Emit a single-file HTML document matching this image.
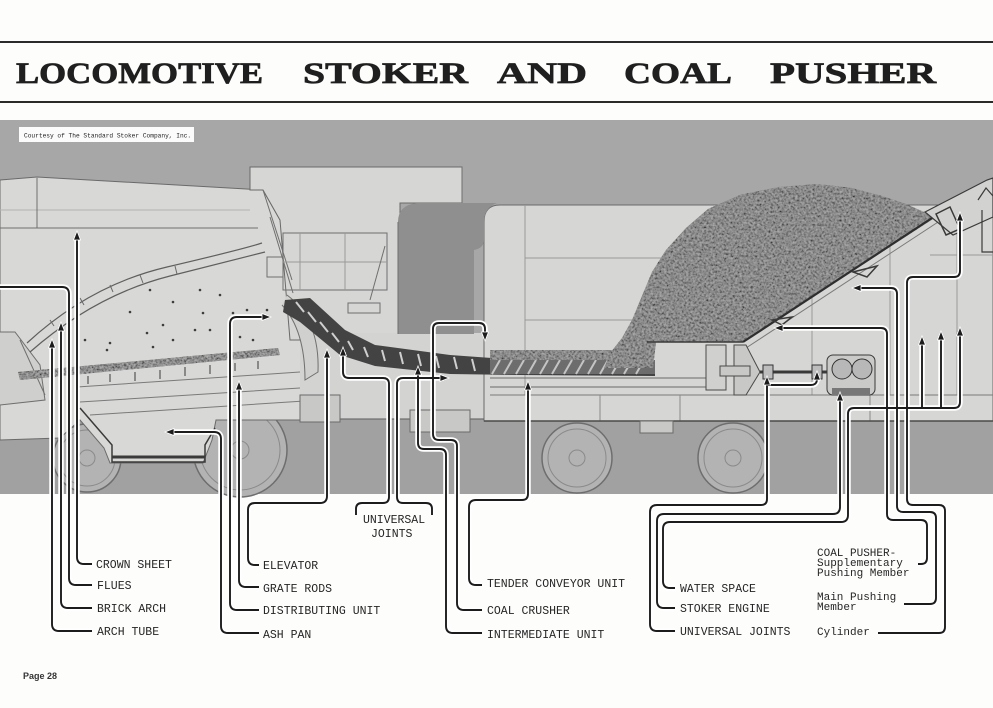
<!DOCTYPE html>
<html><head><meta charset="utf-8"><style>
html,body{margin:0;padding:0;background:#fdfdfc;}
body{width:993px;height:708px;overflow:hidden;}
svg{display:block;}
.lb{font-family:"Liberation Mono","DejaVu Sans Mono",monospace;font-size:11.5px;fill:#262626;}
.sm{font-family:"Liberation Mono","DejaVu Sans Mono",monospace;font-size:11px;fill:#262626;}
.tt{font-family:"Liberation Serif","DejaVu Serif",serif;font-weight:bold;font-size:30px;fill:#1f1f1f;stroke:#1f1f1f;stroke-width:0.7;}
</style></head><body>
<svg width="993" height="708" viewBox="0 0 993 708" xmlns="http://www.w3.org/2000/svg">
<defs>
<filter id="nz" filterUnits="userSpaceOnUse" x="0" y="0" width="993" height="708">
<feTurbulence type="fractalNoise" baseFrequency="0.45" numOctaves="2" seed="7"/>
<feColorMatrix type="matrix" values="1.3 0 0 0 -0.26  1.3 0 0 0 -0.26  1.3 0 0 0 -0.26  0 0 0 0 1"/>
</filter>
<clipPath id="coalClip">
<path d="M604,368 L611,352 L622,338 L632,320 L642,296 L652,272 L666,250 L686,228 L708,209 L740,195 L778,187 L818,184 L852,188 L882,196 L906,204 L924,212 L933,219 L743,342 L656,342 L653,368 Z"/>
<rect x="490" y="350" width="130" height="10"/>
</clipPath>
<clipPath id="fireClip">
<path d="M18,372 L278,348 L280,355 L20,380 Z"/>
</clipPath>
</defs>

<!-- title -->
<rect x="0" y="41" width="993" height="2" fill="#2a2a2a"/>
<rect x="0" y="101" width="993" height="2" fill="#2a2a2a"/>
<text class="tt" x="16" y="83" textLength="247" lengthAdjust="spacingAndGlyphs">LOCOMOTIVE</text>
<text class="tt" x="303" y="83" textLength="165" lengthAdjust="spacingAndGlyphs">STOKER</text>
<text class="tt" x="497" y="83" textLength="90" lengthAdjust="spacingAndGlyphs">AND</text>
<text class="tt" x="624" y="83" textLength="108" lengthAdjust="spacingAndGlyphs">COAL</text>
<text class="tt" x="770" y="83" textLength="166" lengthAdjust="spacingAndGlyphs">PUSHER</text>

<!-- photo background -->
<rect x="0" y="120" width="993" height="374" fill="#a7a7a7"/>
<rect x="0" y="420" width="993" height="74" fill="#a1a1a1"/>

<!-- wheels -->
<g fill="#b3b3b3" stroke="#6e6e6e" stroke-width="1.5">
<circle cx="87" cy="458" r="34"/>
<circle cx="240" cy="450" r="47"/>
<circle cx="577" cy="458" r="35"/>
<circle cx="733" cy="458" r="35"/>
</g>
<g fill="none" stroke="#8a8a8a" stroke-width="1">
<circle cx="87" cy="458" r="28"/><circle cx="240" cy="450" r="40"/>
<circle cx="577" cy="458" r="29"/><circle cx="733" cy="458" r="29"/>
<circle cx="87" cy="458" r="8"/><circle cx="240" cy="450" r="9"/>
<circle cx="577" cy="458" r="8"/><circle cx="733" cy="458" r="8"/>
</g>

<!-- locomotive boiler / firebox -->
<path d="M0,180 L37,177 L263,190 L280,220 L293,282 L312,300 L320,335 L330,340 L330,420 L216,420 L212,440 L203,463 L110,463 L104,448 L80,420 L60,438 L0,440 Z" fill="#d8d8d6" stroke="#6a6a6a" stroke-width="1"/>
<!-- cab -->
<path d="M250,167 H462 V203 H400 V340 H290 L280,220 L263,190 L250,190 Z" fill="#d6d6d4" stroke="#6a6a6a" stroke-width="1"/>
<!-- middle frame -->
<rect x="300" y="333" width="693" height="86" fill="#d3d3d1"/>
<!-- tender body -->
<path d="M484,222 Q484,205 500,205 H993 V421 H484 Z" fill="#d6d6d4" stroke="#6a6a6a" stroke-width="1"/>
<!-- dark gap between cab and tender -->
<path d="M417,203 H497 Q484,208 484,222 V240 Q484,248 474,250 V334 H398 V222 Q398,205 417,203 Z" fill="#8f8f8f"/>

<!-- boiler lines -->
<g stroke="#6f6f6f" stroke-width="1" fill="none">
<path d="M0,228 H258"/>
<path d="M0,210 H250" stroke="#b2b2b2"/>
<path d="M37,178 V228"/>
<path d="M263,190 L292,280"/>
<path d="M270,217 L293,293"/>
<path d="M267,257 h16 v20 h-16 z"/>
<path d="M283,233 H387 V290 H283 Z"/>
<path d="M300,233 V290 M345,233 V290 M283,262 H387" stroke="#9a9a9a"/>
<path d="M348,303 h32 v10 h-32 z"/>
<path d="M398,222 V334"/>
<path d="M462,167 V203"/>
<path d="M385,246 L370,300" />
<path d="M0,332 H15 L40,365 L45,400 L0,405" fill="#cfcfcd"/>
<path d="M20,340 L45,395"/>
<path d="M77,387 L300,372 M80,402 L300,388 M90,415 L320,400" stroke="#7a7a7a"/>
<path d="M80,408 L112,445 L112,462 L205,462 L205,445 L215,428" stroke="#3a3a3a" stroke-width="1.5"/>
<path d="M112,457 H205" stroke="#3a3a3a" stroke-width="3"/>
<path d="M287,295 Q320,320 318,372 L305,380 Q305,330 282,305" fill="#d0d0ce"/>
</g>

<!-- brick arch -->
<g fill="none" stroke="#5f5f5f" stroke-width="1.2">
<path d="M27,343 Q90,285 167,267 T262,243"/>
<path d="M30,352 Q95,295 170,276 T265,252"/>
</g>
<g stroke="#6a6a6a" stroke-width="1">
<path d="M50,320 l4,6 M80,298 l4,7 M110,285 l3,7 M140,275 l3,8 M175,266 l2,8"/>
</g>

<!-- fire bed -->
<g clip-path="url(#fireClip)">
<rect x="0" y="330" width="300" height="60" fill="#666"/>
<rect x="0" y="0" width="993" height="708" filter="url(#nz)" opacity="0.6"/>
</g>
<g stroke="#555" stroke-width="1.2">
<path d="M88,376 v8 M110,374 v8 M135,372 v9 M160,370 v9 M185,367 v9 M210,365 v9 M235,363 v8 M258,361 v8"/>
</g>
<g fill="#3d3d3d">
<circle cx="203" cy="313" r="1.3"/><circle cx="195" cy="330" r="1.3"/><circle cx="210" cy="330" r="1.3"/>
<circle cx="163" cy="325" r="1.3"/><circle cx="147" cy="333" r="1.3"/><circle cx="173" cy="340" r="1.3"/>
<circle cx="110" cy="343" r="1.3"/><circle cx="85" cy="340" r="1.3"/><circle cx="107" cy="350" r="1.3"/>
<circle cx="153" cy="347" r="1.3"/><circle cx="200" cy="290" r="1.3"/><circle cx="150" cy="290" r="1.3"/>
<circle cx="173" cy="302" r="1.3"/><circle cx="233" cy="313" r="1.3"/><circle cx="247" cy="310" r="1.3"/>
<circle cx="267" cy="310" r="1.3"/><circle cx="240" cy="337" r="1.3"/><circle cx="253" cy="340" r="1.3"/>
<circle cx="130" cy="312" r="1.3"/><circle cx="220" cy="295" r="1.3"/>
</g>

<!-- tender lines -->
<g stroke="#9a9a9a" stroke-width="1" fill="none">
<path d="M525,205 V395"/>
<path d="M525,258 H690 M525,320 H640"/>
<path d="M812,290 V395 M890,240 V395 M957,230 V395"/>
<path d="M930,255 H993"/>
<path d="M490,395 H993" stroke="#7a7a7a"/>
<path d="M600,395 V421 M680,395 V421 M870,395 V421" stroke="#8a8a8a"/>
</g>
<path d="M484,421 H993" stroke="#4a4a4a" stroke-width="1.5"/>
<path d="M330,419 H484" stroke="#5a5a5a" stroke-width="1"/>
<rect x="640" y="421" width="33" height="12" fill="#c8c8c6" stroke="#6a6a6a"/>
<rect x="410" y="410" width="60" height="22" fill="#c8c8c6" stroke="#6a6a6a"/>
<rect x="300" y="395" width="40" height="27" fill="#c8c8c6" stroke="#6a6a6a"/>

<!-- conveyor screw (loco side) -->
<path d="M285,300 L310,298 L345,330 L375,345 L450,355 L520,360 L655,362 L655,376 L520,375 L450,374 L375,366 L340,355 L300,322 L283,312 Z" fill="#434343"/>
<g stroke="#cfcfcf" stroke-width="2">
<path d="M296,302 l8,10 M308,312 l8,10 M320,322 l8,10 M332,333 l7,9 M348,341 l5,9 M364,347 l4,10 M382,350 l3,11 M400,352 l3,12 M418,354 l3,12 M436,356 l3,12 M454,357 l3,12 M472,359 l3,12"/>
</g>
<!-- tender screw -->
<rect x="490" y="360" width="165" height="14" fill="#6d6d6d"/>
<g stroke="#c4c4c4" stroke-width="2">
<path d="M492,374 l8,-14 M504,374 l8,-14 M516,374 l8,-14 M528,374 l8,-14 M540,374 l8,-14 M552,374 l8,-14 M564,374 l8,-14 M576,374 l8,-14 M588,374 l8,-14 M600,374 l8,-14 M612,374 l8,-14 M624,374 l8,-14 M636,374 l8,-14"/>
</g>
<path d="M490,378 H710 M490,387 H710" stroke="#6a6a6a" stroke-width="1"/>

<!-- coal -->
<g clip-path="url(#coalClip)">
<rect x="480" y="180" width="470" height="200" fill="#6c6c6c"/>
<rect x="0" y="0" width="993" height="708" filter="url(#nz)" opacity="0.5"/>
</g>

<!-- slope plate & hood -->
<path d="M743,342 L990,180" stroke="#2e2e2e" stroke-width="2.2"/>
<path d="M746,348 L993,186" stroke="#7a7a7a" stroke-width="1"/>
<path d="M647,342 H743" stroke="#3a3a3a" stroke-width="1.5"/>
<path d="M925,212 L987,180 L993,178 V217 L953,235 Z" fill="#d2d2d0" stroke="#3a3a3a" stroke-width="1.2"/>
<path d="M936,214 l14,-7 l10,22 l-14,6 z" fill="none" stroke="#3a3a3a" stroke-width="1.5"/>
<path d="M978,200 L986,188 L993,196 M982,210 V252 H993" fill="none" stroke="#3a3a3a" stroke-width="1.2"/>
<path d="M772,320 l20,-3 l-10,8 z M853,272 l24,-6 l-10,11 z" fill="none" stroke="#3a3a3a" stroke-width="1.5"/>

<!-- conveyor end housing, shaft, engine -->
<rect x="706" y="345" width="20" height="45" fill="#d0d0ce" stroke="#4a4a4a"/>
<path d="M734,345 L746,345 L760,372 L746,395 L734,395 Z" fill="#c8c8c6" stroke="#4a4a4a"/>
<rect x="720" y="366" width="30" height="10" fill="#c8c8c6" stroke="#4a4a4a"/>
<path d="M760,372 H828" stroke="#3a3a3a" stroke-width="3"/>
<rect x="763" y="365" width="10" height="14" fill="#bdbdbd" stroke="#333"/>
<rect x="812" y="365" width="10" height="14" fill="#bdbdbd" stroke="#333"/>
<rect x="827" y="355" width="48" height="40" rx="6" fill="#cacac8" stroke="#3a3a3a"/>
<circle cx="842" cy="369" r="10" fill="#b8b8b8" stroke="#333"/>
<circle cx="862" cy="369" r="10" fill="#b8b8b8" stroke="#333"/>
<rect x="832" y="388" width="38" height="7" fill="#777"/>

<!-- courtesy -->
<rect x="19" y="127" width="175" height="15" fill="#fbfbfb"/>
<text x="24" y="137.5" font-family="Liberation Mono, monospace" font-size="6.2" fill="#222">Courtesy of The Standard Stoker Company, Inc.</text>

<!-- leader lines -->
<g fill="none" stroke-linejoin="round">
<g stroke="#ffffff" stroke-width="5.5">
<path d="M77,236 V557 Q77,564 84,564 H92"/>
<path d="M0,287 H62 Q69,287 69,294 V578 Q69,585 76,585 H92"/>
<path d="M61,327 V601 Q61,608 68,608 H92"/>
<path d="M52,344 V624 Q52,631 59,631 H92"/>
<path d="M327,354 V496 Q327,503 320,503 H255 Q248,503 248,510 V558 Q248,565 255,565 H259"/>
<path d="M239,386 V580 Q239,587 246,587 H259"/>
<path d="M266,317 H237 Q230,317 230,324 V603 Q230,610 237,610 H259"/>
<path d="M170,432 H214 Q221,432 221,439 V626 Q221,633 228,633 H259"/>
<path d="M343,352 V372 Q343,378 349,378 H383 Q389,378 389,384 V497 Q389,503 383,503 H362 Q356,503 356,509 V515"/>
<path d="M432,515 V509 Q432,503 426,503 H403 Q397,503 397,497 V384 Q397,378 403,378 H444"/>
<path d="M528,386 V494 Q528,500 522,500 H476 Q469,500 469,507 V578 Q469,585 476,585 H482"/>
<path d="M485,336 V329 Q485,323 479,323 H439 Q433,323 433,329 V434 Q433,440 439,440 H451 Q457,440 457,446 V603 Q457,610 464,610 H482"/>
<path d="M418,371 V443 Q418,449 424,449 H440 Q446,449 446,455 V626 Q446,633 453,633 H482"/>
<path d="M675,588 H670 Q663,588 663,581 V529 Q663,522 670,522 H841 Q848,522 848,515 V414 Q848,408 854,408 H954 Q960,408 960,402 V332"/>
<path d="M922,408 V341 M941,408 V336"/>
<path d="M840,397 V507 Q840,514 833,514 H664 Q657,514 657,521 V601 Q657,608 664,608 H675"/>
<path d="M767,381 V499 Q767,505 761,505 H657 Q650,505 650,512 V624 Q650,631 657,631 H675"/>
<path d="M767,385 H811 Q817,385 817,379 V376"/>
<path d="M779,328 H881 Q887,328 887,334 V514 Q887,520 893,520 H921 Q927,520 927,526 V558 Q927,564 921,564 H918"/>
<path d="M857,288 H891 Q897,288 897,294 V506 Q897,512 903,512 H930 Q936,512 936,518 V598 Q936,604 930,604 H904"/>
<path d="M960,217 V271 Q960,277 954,277 H913 Q907,277 907,283 V499 Q907,505 913,505 H939 Q945,505 945,511 V627 Q945,633 939,633 H878"/>
</g>
<g stroke="#1c1c1c" stroke-width="1.9">
<path d="M77,236 V557 Q77,564 84,564 H92"/>
<path d="M0,287 H62 Q69,287 69,294 V578 Q69,585 76,585 H92"/>
<path d="M61,327 V601 Q61,608 68,608 H92"/>
<path d="M52,344 V624 Q52,631 59,631 H92"/>
<path d="M327,354 V496 Q327,503 320,503 H255 Q248,503 248,510 V558 Q248,565 255,565 H259"/>
<path d="M239,386 V580 Q239,587 246,587 H259"/>
<path d="M266,317 H237 Q230,317 230,324 V603 Q230,610 237,610 H259"/>
<path d="M170,432 H214 Q221,432 221,439 V626 Q221,633 228,633 H259"/>
<path d="M343,352 V372 Q343,378 349,378 H383 Q389,378 389,384 V497 Q389,503 383,503 H362 Q356,503 356,509 V515"/>
<path d="M432,515 V509 Q432,503 426,503 H403 Q397,503 397,497 V384 Q397,378 403,378 H444"/>
<path d="M528,386 V494 Q528,500 522,500 H476 Q469,500 469,507 V578 Q469,585 476,585 H482"/>
<path d="M485,336 V329 Q485,323 479,323 H439 Q433,323 433,329 V434 Q433,440 439,440 H451 Q457,440 457,446 V603 Q457,610 464,610 H482"/>
<path d="M418,371 V443 Q418,449 424,449 H440 Q446,449 446,455 V626 Q446,633 453,633 H482"/>
<path d="M675,588 H670 Q663,588 663,581 V529 Q663,522 670,522 H841 Q848,522 848,515 V414 Q848,408 854,408 H954 Q960,408 960,402 V332"/>
<path d="M922,408 V341 M941,408 V336"/>
<path d="M840,397 V507 Q840,514 833,514 H664 Q657,514 657,521 V601 Q657,608 664,608 H675"/>
<path d="M767,381 V499 Q767,505 761,505 H657 Q650,505 650,512 V624 Q650,631 657,631 H675"/>
<path d="M767,385 H811 Q817,385 817,379 V376"/>
<path d="M779,328 H881 Q887,328 887,334 V514 Q887,520 893,520 H921 Q927,520 927,526 V558 Q927,564 921,564 H918"/>
<path d="M857,288 H891 Q897,288 897,294 V506 Q897,512 903,512 H930 Q936,512 936,518 V598 Q936,604 930,604 H904"/>
<path d="M960,217 V271 Q960,277 954,277 H913 Q907,277 907,283 V499 Q907,505 913,505 H939 Q945,505 945,511 V627 Q945,633 939,633 H878"/>
</g>
</g>

<!-- arrowheads -->
<g fill="#1c1c1c" stroke="#ffffff" stroke-width="0.8">
<polygon points="77,231 73.5,240 80.5,240"/>
<polygon points="61,322 57.5,331 64.5,331"/>
<polygon points="52,339 48.5,348 55.5,348"/>
<polygon points="327,349 323.5,358 330.5,358"/>
<polygon points="239,381 235.5,390 242.5,390"/>
<polygon points="343,347 339.5,356 346.5,356"/>
<polygon points="418,366 414.5,375 421.5,375"/>
<polygon points="528,381 524.5,390 531.5,390"/>
<polygon points="922,336 918.5,345 925.5,345"/>
<polygon points="941,331 937.5,340 944.5,340"/>
<polygon points="960,327 956.5,336 963.5,336"/>
<polygon points="840,392 836.5,401 843.5,401"/>
<polygon points="767,376 763.5,385 770.5,385"/>
<polygon points="817,371 813.5,380 820.5,380"/>
<polygon points="960,212 956.5,221 963.5,221"/>
<polygon points="165,432 174,428.5 174,435.5"/>
<polygon points="774,328 783,324.5 783,331.5"/>
<polygon points="852,288 861,284.5 861,291.5"/>
<polygon points="271,317 262,313.5 262,320.5"/>
<polygon points="449,378 440,374.5 440,381.5"/>
<polygon points="485,341 481.5,332 488.5,332"/>
</g>

<!-- labels -->
<text class="lb" x="96" y="568">CROWN SHEET</text>
<text class="lb" x="97" y="589">FLUES</text>
<text class="lb" x="97" y="612">BRICK ARCH</text>
<text class="lb" x="97" y="635">ARCH TUBE</text>
<text class="lb" x="263" y="569">ELEVATOR</text>
<text class="lb" x="263" y="592">GRATE RODS</text>
<text class="lb" x="263" y="614">DISTRIBUTING UNIT</text>
<text class="lb" x="263" y="638">ASH PAN</text>
<text class="lb" x="363" y="523">UNIVERSAL</text>
<text class="lb" x="371" y="537">JOINTS</text>
<text class="lb" x="487" y="587">TENDER CONVEYOR UNIT</text>
<text class="lb" x="487" y="614">COAL CRUSHER</text>
<text class="lb" x="487" y="638">INTERMEDIATE UNIT</text>
<text class="lb" x="680" y="592">WATER SPACE</text>
<text class="lb" x="680" y="612">STOKER ENGINE</text>
<text class="lb" x="680" y="635">UNIVERSAL JOINTS</text>
<text class="sm" x="817" y="556">COAL PUSHER-</text>
<text class="sm" x="817" y="566">Supplementary</text>
<text class="sm" x="817" y="576">Pushing Member</text>
<text class="sm" x="817" y="600">Main Pushing</text>
<text class="sm" x="817" y="610">Member</text>
<text class="sm" x="817" y="635">Cylinder</text>

<text x="23" y="679" font-family="Liberation Sans, sans-serif" font-weight="bold" font-size="9" fill="#333">Page 28</text>
</svg>
</body></html>
